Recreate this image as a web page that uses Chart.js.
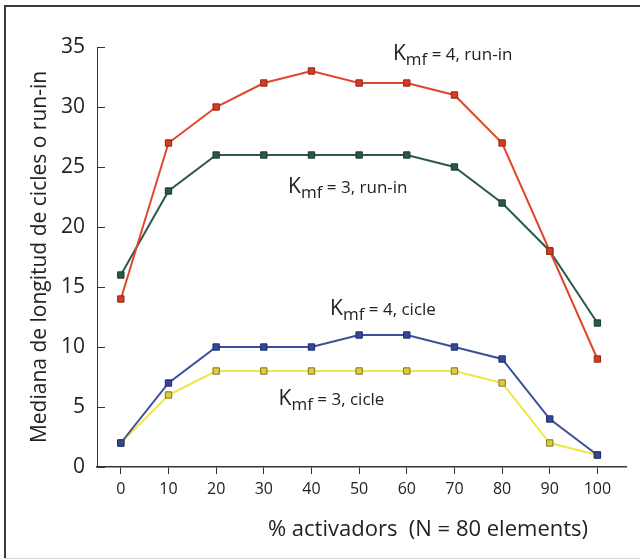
<!DOCTYPE html>
<html>
<head>
<meta charset="utf-8">
<script src="https://cdn.jsdelivr.net/npm/chart.js@4.4.0/dist/chart.umd.min.js"></script>
<style>
  html, body { margin: 0; padding: 0; background: #fff; }
  #wrap { width: 640px; height: 560px; position: relative; }
</style>
</head>
<body>
<div id="wrap"><canvas id="chart" width="640" height="560"></canvas></div>
<script>
// % activadors
const activators = [0, 10, 20, 30, 40, 50, 60, 70, 80, 90, 100];
const xTicks = [0, 10, 20, 30, 40, 50, 60, 70, 80, 90, 100];
const yTicks = [0, 5, 10, 15, 20, 25, 30, 35];

// mediana de longitud
const runIn4 = [14, 27, 30, 32, 33, 32, 32, 31, 27, 18, 9];
const runIn3 = [16, 23, 26, 26, 26, 26, 26, 25, 22, 18, 12];
const cicle4 = [2, 7, 10, 10, 10, 11, 11, 10, 9, 4, 1];
const cicle3 = [2, 6, 8, 8, 8, 8, 8, 8, 7, 2, 1];

// series labels: [main, subscript, rest, x, y] in data units
const seriesLabels = [
  ["K", "mf", " = 4, run-in", 57.1, 33.9],
  ["K", "mf", " = 3, run-in", 35.1, 22.8],
  ["K", "mf", " = 4, cicle", 43.9, 12.7],
  ["K", "mf", " = 3, cicle", 33.1, 5.2],
];

const FONT = "'Open Sans', 'Noto Sans', sans-serif";

function toPoints(values) {
  return values.map((v, i) => ({ x: activators[i], y: v }));
}

function series(label, values, line, fill, edge) {
  return {
    label: label,
    data: toPoints(values),
    borderColor: line,
    borderWidth: 2,
    pointStyle: "rect",
    pointRadius: 4.5,
    pointBackgroundColor: fill,
    pointBorderColor: edge,
    pointBorderWidth: 1,
    tension: 0,
  };
}

const framePlugin = {
  id: "frame",
  beforeDraw(chart) {
    const ctx = chart.ctx;
    ctx.save();
    ctx.strokeStyle = "#3a3a3a";
    ctx.lineWidth = 2;
    ctx.beginPath();
    ctx.moveTo(5, 558);
    ctx.lineTo(5, 6);
    ctx.lineTo(640, 6);
    ctx.stroke();
    ctx.strokeStyle = "#d6d6d6";
    ctx.lineWidth = 1;
    ctx.beginPath();
    ctx.moveTo(5, 558.5);
    ctx.lineTo(640, 558.5);
    ctx.stroke();
    ctx.restore();
  },
};

const textPlugin = {
  id: "texts",
  afterDraw(chart) {
    const ctx = chart.ctx;
    const xs = chart.scales.x;
    const ys = chart.scales.y;
    ctx.save();
    ctx.fillStyle = "#222";
    ctx.textBaseline = "alphabetic";
    ctx.textAlign = "left";
    seriesLabels.forEach(([main, sub, rest, x, y]) => {
      let px = xs.getPixelForValue(x);
      const py = ys.getPixelForValue(y);
      ctx.font = "21px " + FONT;
      ctx.fillText(main, px, py);
      px += ctx.measureText(main).width;
      ctx.font = "17px " + FONT;
      ctx.fillText(sub, px, py + 5);
      px += ctx.measureText(sub).width;
      ctx.font = "17px " + FONT;
      ctx.fillText(rest, px, py);
    });

    // x axis title
    ctx.font = "22px " + FONT;
    ctx.textAlign = "center";
    ctx.textBaseline = "middle";
    ctx.fillText("% activadors  (N = 80 elements)", 428, 530);
    ctx.restore();
  },
};

new Chart(document.getElementById("chart"), {
  type: "line",
  data: {
    datasets: [
      series("Kmf = 4, run-in", runIn4, "#e2462a", "#d93a20", "#8a2a18"),
      series("Kmf = 3, run-in", runIn3, "#2f5a47", "#2a5a45", "#1c3a2e"),
      series("Kmf = 4, cicle", cicle4, "#3c4f9c", "#33489a", "#1e2c66"),
      series("Kmf = 3, cicle", cicle3, "#f0e64a", "#dccd3c", "#7d7428"),
    ],
  },
  options: {
    responsive: false,
    animation: false,
    layout: { padding: { left: 0, right: 14, top: 47, bottom: 0 } },
    plugins: {
      legend: { display: false },
      tooltip: { enabled: false },
    },
    scales: {
      x: {
        type: "linear",
        min: -5,
        max: 106,
        afterBuildTicks: (scale) => {
          scale.ticks = xTicks.map((v) => ({ value: v }));
        },
        afterFit: (scale) => {
          scale.height = 93;
        },
        grid: {
          drawOnChartArea: false,
          drawTicks: true,
          tickLength: 7,
          color: "#333",
        },
        border: { display: true, color: "#333", width: 1.5 },
        ticks: {
          color: "#222",
          padding: 6,
          font: { family: FONT, size: 16 },
          maxRotation: 0,
        },
      },
      y: {
        type: "linear",
        min: 0,
        max: 35,
        afterBuildTicks: (scale) => {
          scale.ticks = yTicks.map((v) => ({ value: v }));
        },
        afterFit: (scale) => {
          scale.width = 97;
        },
        grid: {
          drawOnChartArea: false,
          drawTicks: true,
          tickLength: -8,
          color: "#333",
        },
        border: { display: true, color: "#333", width: 1 },
        ticks: {
          color: "#222",
          padding: 20,
          font: { family: FONT, size: 21 },
        },
        title: {
          display: true,
          text: "Mediana de longitud de cicles o run-in",
          color: "#222",
          font: { family: FONT, size: 21 },
          padding: { top: 27, bottom: 0 },
        },
      },
    },
  },
  plugins: [framePlugin, textPlugin],
});
</script>
</body>
</html>
